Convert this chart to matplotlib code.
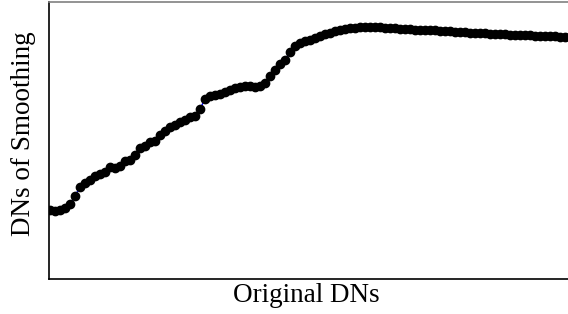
import matplotlib
matplotlib.use("Agg")
import matplotlib.pyplot as plt
import numpy as np

# smoothed DN values along the original DN axis (arbitrary units)
smoothed = [69, 68, 69, 71, 75, 83, 92, 96, 99, 103, 105, 107, 112, 111, 113, 118, 119,
            124, 131, 133, 137, 138, 144, 148, 152, 154, 157, 159, 162, 163, 170, 180,
            183, 184, 185, 187, 189, 191, 192, 193, 193, 192, 193, 196, 203, 209, 215,
            219, 227, 233, 236, 238, 239, 241, 243, 245, 246, 248, 249, 250, 251, 251,
            252, 252, 252, 252, 252, 251, 251, 251, 250.5, 250, 250, 249.5, 249.5, 249,
            249, 249, 248.5, 248, 248, 247.5, 247, 247, 246.5, 246.5, 246, 246, 245.5,
            245.5, 245, 245, 244.5, 244.5, 244, 244, 244, 243.5, 243.5, 243, 243, 243,
            242.5, 242.5, 242]
original = np.arange(len(smoothed))

plt.rcParams["font.family"] = ["Liberation Serif", "DejaVu Serif"]

fig = plt.figure(figsize=(5.68, 3.14), dpi=100)
# axes run past the right edge of the figure, as in the reference crop
ax = fig.add_axes([48.5 / 568, 35 / 314, 551.5 / 568, 277.5 / 314])
ax.plot(original, smoothed, color="blue", lw=1, marker="o", ms=6,
        mfc="black", mec="black")
ax.set_xlim(-0.3, 110)
ax.set_ylim(0, 277.5)
ax.set_xticks([]); ax.set_yticks([])
for s in ax.spines.values():
    s.set_linewidth(1.2)
ax.spines["top"].set_color("#808080")  # top edge is cut off in the reference
ax.set_xlabel("Original DNs", fontsize=19.5)
ax.set_ylabel("DNs of Smoothing", fontsize=19.5)
ax.xaxis.set_label_coords(0.467, -0.015)
ax.yaxis.set_label_coords(-0.022, 0.523)
fig.savefig("out.png", dpi=100)
